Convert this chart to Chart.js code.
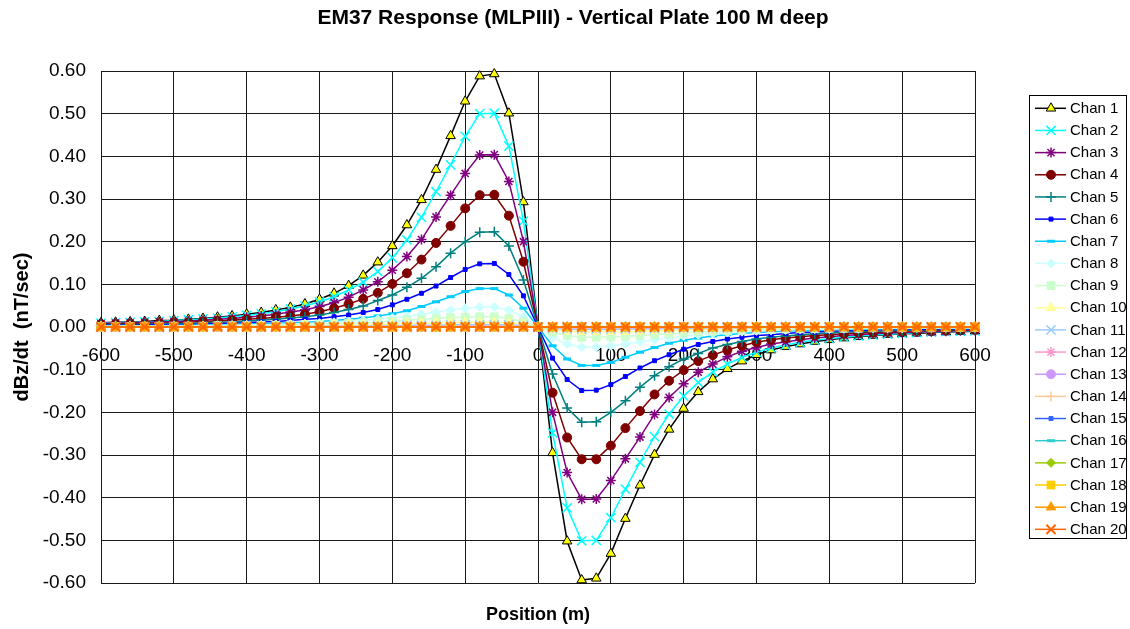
<!DOCTYPE html>
<html><head><meta charset="utf-8">
<script src="https://cdn.jsdelivr.net/npm/chart.js@4.4.1/dist/chart.umd.min.js"></script>
<style>html,body{margin:0;padding:0;background:#fff;}#wrap{width:1130px;height:629px;}</style>
</head><body><div id="wrap"><canvas id="c" width="1130" height="629"></canvas></div>
<script>
const chartTitle = 'EM37 Response (MLPIII) - Vertical Plate 100 M deep';
const xAxisTitle = 'Position (m)';
const yAxisTitle = 'dBz/dt  (nT/sec)';

const positions = [-600,-580,-560,-540,-520,-500,-480,-460,-440,-420,-400,-380,-360,-340,-320,-300,-280,-260,-240,-220,-200,-180,-160,-140,-120,-100,-80,-60,-40,-20,
  0,20,40,60,80,100,120,140,160,180,200,220,240,260,280,300,320,340,360,380,400,420,440,460,480,500,520,540,560,580,600];

const ch1 = [0.010,0.011,0.012,0.013,0.015,0.016,0.018,0.020,0.023,0.026,0.030,0.034,0.040,0.046,0.054,0.065,0.079,0.097,0.121,0.152,0.190,0.239,0.298,0.369,0.448,0.529,0.588,0.593,0.501,0.293,
  0,-0.295,-0.502,-0.593,-0.589,-0.531,-0.449,-0.371,-0.299,-0.240,-0.191,-0.152,-0.122,-0.098,-0.080,-0.065,-0.054,-0.046,-0.040,-0.034,-0.030,-0.026,-0.023,-0.020,-0.018,-0.016,-0.015,-0.013,-0.012,-0.011,-0.010];
const ch2 = [0.009,0.010,0.011,0.012,0.013,0.015,0.017,0.019,0.021,0.024,0.027,0.031,0.036,0.042,0.049,0.059,0.071,0.087,0.105,0.130,0.162,0.204,0.257,0.317,0.380,0.447,0.500,0.501,0.424,0.248,
  0,-0.248,-0.424,-0.501,-0.500,-0.447,-0.380,-0.317,-0.257,-0.204,-0.162,-0.130,-0.105,-0.087,-0.071,-0.059,-0.049,-0.042,-0.036,-0.031,-0.027,-0.024,-0.021,-0.019,-0.017,-0.015,-0.013,-0.012,-0.011,-0.010,-0.009];
const ch3 = [0.008,0.009,0.010,0.011,0.012,0.013,0.014,0.016,0.018,0.020,0.023,0.026,0.030,0.035,0.040,0.048,0.057,0.070,0.087,0.106,0.133,0.165,0.205,0.258,0.309,0.360,0.403,0.404,0.341,0.200,
  0,-0.200,-0.341,-0.404,-0.403,-0.360,-0.309,-0.258,-0.205,-0.165,-0.133,-0.106,-0.087,-0.070,-0.057,-0.048,-0.040,-0.035,-0.030,-0.026,-0.023,-0.020,-0.018,-0.016,-0.014,-0.013,-0.012,-0.011,-0.010,-0.009,-0.008];
const ch4 = [0.006,0.007,0.008,0.008,0.009,0.010,0.011,0.013,0.014,0.016,0.018,0.020,0.023,0.026,0.030,0.036,0.044,0.054,0.066,0.080,0.101,0.126,0.158,0.197,0.237,0.278,0.309,0.310,0.261,0.153,
  0,-0.154,-0.259,-0.310,-0.310,-0.278,-0.237,-0.197,-0.158,-0.126,-0.101,-0.080,-0.066,-0.054,-0.044,-0.036,-0.030,-0.026,-0.023,-0.020,-0.018,-0.016,-0.014,-0.013,-0.011,-0.010,-0.009,-0.008,-0.008,-0.007,-0.006];
const ch5 = [0.005,0.006,0.006,0.007,0.007,0.008,0.009,0.010,0.011,0.012,0.014,0.016,0.018,0.021,0.024,0.028,0.034,0.041,0.049,0.062,0.075,0.093,0.114,0.141,0.173,0.200,0.222,0.223,0.190,0.110,
  0,-0.110,-0.190,-0.223,-0.222,-0.200,-0.173,-0.141,-0.114,-0.093,-0.075,-0.062,-0.049,-0.041,-0.034,-0.028,-0.024,-0.021,-0.018,-0.016,-0.014,-0.012,-0.011,-0.010,-0.009,-0.008,-0.007,-0.007,-0.006,-0.006,-0.005];
const ch6 = [0.004,0.004,0.004,0.005,0.005,0.006,0.006,0.007,0.008,0.009,0.010,0.012,0.013,0.015,0.018,0.020,0.024,0.028,0.034,0.041,0.052,0.065,0.079,0.096,0.116,0.135,0.148,0.149,0.123,0.073,
  0,-0.073,-0.123,-0.149,-0.148,-0.135,-0.116,-0.096,-0.079,-0.065,-0.052,-0.041,-0.034,-0.028,-0.024,-0.020,-0.018,-0.015,-0.013,-0.012,-0.010,-0.009,-0.008,-0.007,-0.006,-0.006,-0.005,-0.005,-0.004,-0.004,-0.004];
const ch7 = [0.002,0.003,0.003,0.003,0.003,0.004,0.004,0.005,0.005,0.006,0.007,0.008,0.009,0.010,0.011,0.013,0.015,0.018,0.021,0.026,0.031,0.038,0.048,0.059,0.071,0.083,0.090,0.090,0.075,0.044,
  0,-0.044,-0.075,-0.090,-0.090,-0.083,-0.071,-0.059,-0.048,-0.038,-0.031,-0.026,-0.021,-0.018,-0.015,-0.013,-0.011,-0.010,-0.009,-0.008,-0.007,-0.006,-0.005,-0.005,-0.004,-0.004,-0.003,-0.003,-0.003,-0.003,-0.002];
const ch8 = [0.002,0.002,0.002,0.002,0.002,0.003,0.003,0.003,0.004,0.004,0.005,0.005,0.006,0.007,0.008,0.009,0.011,0.013,0.015,0.018,0.021,0.025,0.030,0.035,0.040,0.044,0.047,0.047,0.040,0.024,
  0,-0.024,-0.040,-0.047,-0.047,-0.044,-0.040,-0.035,-0.030,-0.025,-0.021,-0.018,-0.015,-0.013,-0.011,-0.009,-0.008,-0.007,-0.006,-0.005,-0.005,-0.004,-0.004,-0.003,-0.003,-0.003,-0.002,-0.002,-0.002,-0.002,-0.002];
const ch9 = [0.001,0.001,0.001,0.002,0.002,0.002,0.002,0.002,0.003,0.003,0.003,0.004,0.004,0.005,0.006,0.007,0.008,0.009,0.010,0.012,0.014,0.016,0.018,0.020,0.022,0.023,0.024,0.024,0.020,0.012,
  0,-0.012,-0.020,-0.024,-0.024,-0.023,-0.022,-0.020,-0.018,-0.016,-0.014,-0.012,-0.010,-0.009,-0.008,-0.007,-0.006,-0.005,-0.004,-0.004,-0.003,-0.003,-0.003,-0.002,-0.002,-0.002,-0.002,-0.002,-0.001,-0.001,-0.001];
const ch10 = [0.001,0.001,0.001,0.001,0.001,0.001,0.001,0.001,0.001,0.002,0.002,0.002,0.002,0.003,0.003,0.003,0.004,0.005,0.005,0.006,0.007,0.008,0.009,0.010,0.011,0.011,0.011,0.011,0.010,0.006,
  0,-0.006,-0.010,-0.011,-0.011,-0.011,-0.011,-0.010,-0.009,-0.008,-0.007,-0.006,-0.005,-0.005,-0.004,-0.003,-0.003,-0.003,-0.002,-0.002,-0.002,-0.002,-0.001,-0.001,-0.001,-0.001,-0.001,-0.001,-0.001,-0.001,-0.001];
const ch11 = [0,0,0,0,0,0.001,0.001,0.001,0.001,0.001,0.001,0.001,0.001,0.001,0.001,0.002,0.002,0.002,0.002,0.003,0.003,0.004,0.004,0.004,0.005,0.005,0.005,0.005,0.005,0.003,
  0,-0.003,-0.005,-0.005,-0.005,-0.005,-0.005,-0.004,-0.004,-0.004,-0.003,-0.003,-0.002,-0.002,-0.002,-0.002,-0.001,-0.001,-0.001,-0.001,-0.001,-0.001,-0.001,-0.001,-0.001,-0.001,0,0,0,0,0];
const ch12 = [0,0,0,0,0,0,0,0,0,0,0,0,0,0,0,0.001,0.001,0.001,0.001,0.001,0.001,0.002,0.002,0.002,0.002,0.002,0.002,0.002,0.002,0.001,
  0,-0.001,-0.002,-0.002,-0.002,-0.002,-0.002,-0.002,-0.002,-0.002,-0.001,-0.001,-0.001,-0.001,-0.001,-0.001,0,0,0,0,0,0,0,0,0,0,0,0,0,0,0];
const flatChannel = [0,0,0,0,0,0,0,0,0,0,0,0,0,0,0,0,0,0,0,0,0,0,0,0,0,0,0,0,0,0,
  0,0,0,0,0,0,0,0,0,0,0,0,0,0,0,0,0,0,0,0,0,0,0,0,0,0,0,0,0,0,0];
const ch13 = flatChannel, ch14 = flatChannel, ch15 = flatChannel, ch16 = flatChannel,
      ch17 = flatChannel, ch18 = flatChannel, ch19 = flatChannel, ch20 = flatChannel;

const channelNames = ['Chan 1','Chan 2','Chan 3','Chan 4','Chan 5','Chan 6','Chan 7','Chan 8','Chan 9','Chan 10',
  'Chan 11','Chan 12','Chan 13','Chan 14','Chan 15','Chan 16','Chan 17','Chan 18','Chan 19','Chan 20'];
const channelValues = [ch1,ch2,ch3,ch4,ch5,ch6,ch7,ch8,ch9,ch10,ch11,ch12,ch13,ch14,ch15,ch16,ch17,ch18,ch19,ch20];

const yTickMin = -0.6, yTickMax = 0.6, yTickStep = 0.1;
const xTickMin = -600, xTickMax = 600, xTickStep = 100;

// styles
const lineColors = ['#000000','#00FFFF','#800080','#800000','#008080','#0000FF','#00CCFF','#CCFFFF','#CCFFCC','#FFFF99',
  '#99CCFF','#FF99CC','#CC99FF','#FFCC99','#3366FF','#33CCCC','#99CC00','#FFCC00','#FF9900','#FF6600'];
const markerFills = ['#FFFF00','#00FFFF','#800080','#800000','#008080','#0000FF','#00CCFF','#CCFFFF','#CCFFCC','#FFFF99',
  '#99CCFF','#FF99CC','#CC99FF','#FFCC99','#3366FF','#33CCCC','#99CC00','#FFCC00','#FF9900','#FF6600'];
const markerStyles = ['triangle','crossRot','star','circle','cross','rect','line','rectRot','rect','triangle',
  'crossRot','star','circle','cross','rect','line','rectRot','rect','triangle','crossRot'];
const markerRadii = [5.5,6.5,5,4.5,5,2.8,4,4.5,5.5,5.5, 6.5,5,4.5,5,2.8,4,4.5,5.5,5.5,6.5];
const markerBorderWidths = [1,1.5,1.5,1,1.5,1,3,1,1,1, 1.5,1.5,1,1.5,1,3,1,1,1,2];
const markerBorders = ['#000000','#00FFFF','#800080','#800000','#008080','#0000FF','#00CCFF','#CCFFFF','#CCFFCC','#FFFF99',
  '#99CCFF','#FF99CC','#CC99FF','#FFCC99','#3366FF','#33CCCC','#99CC00','#FFCC00','#FF9900','#FF6600'];

const FONT = "'Liberation Sans', Arial, Helvetica, sans-serif";
Chart.defaults.font.family = FONT;
Chart.defaults.color = '#000';

const datasets = channelValues.map((vals, i) => ({
  label: channelNames[i],
  data: positions.map((x, j) => ({x: x, y: vals[j]})),
  borderColor: lineColors[i],
  backgroundColor: markerFills[i],
  borderWidth: 1.5,
  pointStyle: markerStyles[i],
  pointRadius: markerRadii[i],
  pointHoverRadius: markerRadii[i],
  pointBackgroundColor: markerFills[i],
  pointBorderColor: markerBorders[i],
  pointBorderWidth: markerBorderWidths[i],
  tension: 0,
  fill: false,
  clip: false,
  order: channelValues.length - 1 - i
}));

const titlePlugin = {
  id: 'topTitle',
  afterDraw(chart) {
    const ctx = chart.ctx;
    ctx.save();
    ctx.font = 'bold 21px ' + FONT;
    ctx.fillStyle = '#000';
    ctx.textAlign = 'center';
    ctx.textBaseline = 'middle';
    ctx.fillText(chartTitle, 573, 18);
    ctx.restore();
  }
};

const legendPlugin = {
  id: 'boxLegend',
  afterDraw(chart) {
    const ctx = chart.ctx;
    const helpers = Chart.helpers || {};
    ctx.save();
    ctx.strokeStyle = '#000';
    ctx.lineWidth = 1;
    ctx.strokeRect(1029.5, 95.5, 97, 443);
    const n = chart.data.datasets.length;
    chart.data.datasets.forEach((ds, i) => {
      const y = 108.3 + i * 22.16;
      ctx.beginPath();
      ctx.strokeStyle = ds.borderColor;
      ctx.lineWidth = 1.5;
      ctx.moveTo(1035, y);
      ctx.lineTo(1066, y);
      ctx.stroke();
      ctx.fillStyle = ds.pointBackgroundColor;
      ctx.strokeStyle = ds.pointBorderColor;
      ctx.lineWidth = ds.pointBorderWidth;
      if (helpers.drawPoint) {
        helpers.drawPoint(ctx, {pointStyle: ds.pointStyle, rotation: 0, radius: ds.pointRadius, borderWidth: ds.pointBorderWidth}, 1051, y);
      } else {
        ctx.beginPath(); ctx.arc(1051, y, ds.pointRadius, 0, Math.PI * 2); ctx.fill(); ctx.stroke();
      }
      ctx.fillStyle = '#000';
      ctx.font = '15px ' + FONT;
      ctx.textAlign = 'left';
      ctx.textBaseline = 'middle';
      ctx.fillText(ds.label, 1070, y + 0.5);
    });
    ctx.restore();
  }
};

new Chart(document.getElementById('c'), {
  type: 'line',
  data: { datasets: datasets },
  plugins: [titlePlugin, legendPlugin],
  options: {
    responsive: false,
    animation: false,
    devicePixelRatio: 1,
    events: [],
    layout: { padding: { top: 71, right: 155, left: 0, bottom: 0 } },
    plugins: { legend: { display: false }, title: { display: false }, tooltip: { enabled: false } },
    scales: {
      x: {
        type: 'linear',
        position: { y: 0 },
        min: xTickMin, max: xTickMax,
        grid: { color: '#1a1a1a', lineWidth: 1, drawTicks: false },
        border: { color: '#1a1a1a', width: 1 },
        ticks: { stepSize: xTickStep, autoSkip: false, maxRotation: 0, padding: 17,
          font: { size: 19 }, color: '#000', callback: (v) => String(v) }
      },
      x2: {
        type: 'linear',
        position: 'bottom',
        min: xTickMin, max: xTickMax,
        grid: { display: false },
        border: { display: false },
        ticks: { display: false },
        title: { display: true, text: xAxisTitle, font: { size: 18, weight: 'bold' }, color: '#000', padding: { top: 0, bottom: 3 } },
        afterFit(scale) { scale.height = 46; }
      },
      y: {
        type: 'linear',
        position: 'left',
        min: yTickMin, max: yTickMax,
        grid: { color: '#1a1a1a', lineWidth: 1, drawTicks: false },
        border: { color: '#1a1a1a', width: 1 },
        ticks: { stepSize: yTickStep, autoSkip: false, padding: 15, font: { size: 19 }, color: '#000',
          callback: (v) => Number(v).toFixed(2) },
        title: { display: true, text: yAxisTitle, font: { size: 20, weight: 'bold' }, color: '#000', padding: { top: 10, bottom: 0 } },
        afterFit(scale) { scale.width = 101; }
      }
    }
  }
});
</script>
</body></html>
